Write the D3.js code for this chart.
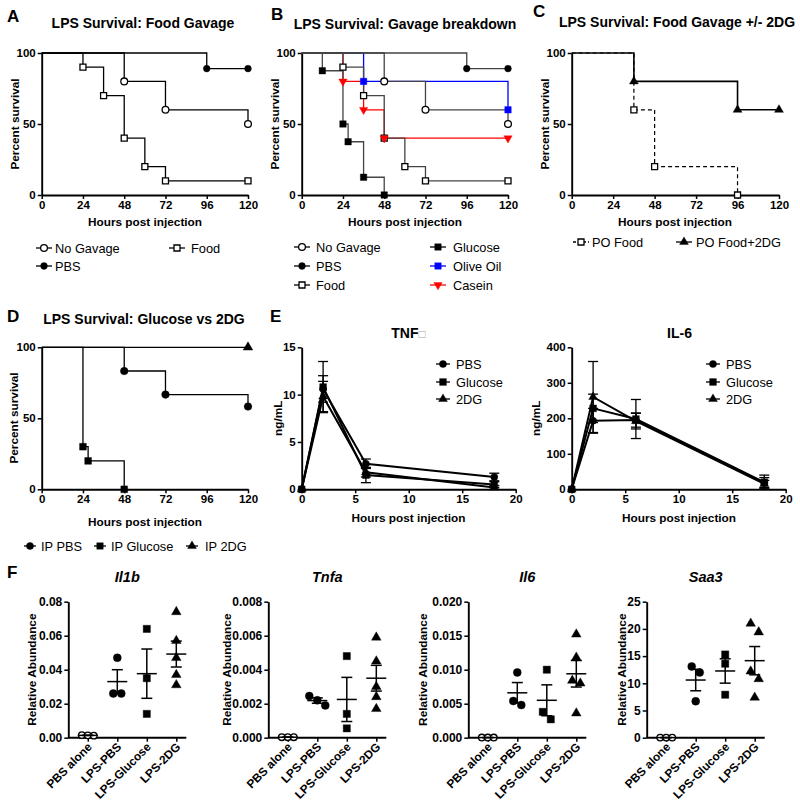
<!DOCTYPE html>
<html><head><meta charset="utf-8">
<script src="https://cdn.jsdelivr.net/npm/d3@7"></script>
<style>body{margin:0;background:#fff}</style>
</head><body>
<svg id="chart" width="800" height="807" style="background:#fff"></svg>
<script>
// ---------------- DATA ----------------
const survivalHourTicks = [0, 24, 48, 72, 96, 120];
const survivalPctTicks = [0, 50, 100];
// [hours, percent survival] at each event (curves start at 100%)
const noGavage = [[48, 80], [72, 60], [120, 50]];
const pbsGavage = [[96, 89], [120, 89]];
const foodGavage = [[24, 90], [36, 70], [48, 40], [60, 20], [72, 10], [120, 10]];
const glucoseGavage = [[12, 87.5], [24, 50], [27, 37.5], [36, 12.5], [48, 0]];
const oliveOilGavage = [[36, 80], [120, 60]];
const caseinGavage = [[24, 80], [36, 60], [48, 40], [120, 40]];
const poFood = [[36, 60], [48, 20], [96, 0]];
const poFood2DG = [[36, 80], [96, 60], [120, 60]];
const ipPBS = [[48, 83.3], [72, 66.7], [120, 58.3]];
const ipGlucose = [[24, 30], [27, 20], [48, 0]];
const ip2DG = [[120, 100]];

const cytoHours = [0, 2, 6, 18];
const cytoHourTicks = [0, 5, 10, 15, 20];
const tnfTicks = [0, 5, 10, 15];
const il6Ticks = [0, 100, 200, 300, 400];
const tnfPBS = [0, 10.6, 2.7, 1.3];
const tnfPBSsem = [0, 1.4, 0.5, 0.4];
const tnfGlucose = [0, 10.8, 1.5, 0.5];
const tnfGlucoseSem = [0, 2.7, 0.8, 0.3];
const tnf2DG = [0, 9.8, 1.8, 0.2];
const tnf2DGsem = [0, 1.6, 0.5, 0.2];
const il6PBS = [0, 193, 195, 18];
const il6PBSsem = [0, 35, 20, 15];
const il6Glucose = [0, 228, 198, 20];
const il6GlucoseSem = [0, 40, 55, 20];
const il62DG = [0, 260, 192, 15];
const il62DGsem = [0, 100, 22, 10];

const fCategories = ["PBS alone", "LPS-PBS", "LPS-Glucose", "LPS-2DG"];
const il1bValues = [[0.0015, 0.0012, 0.0014], [0.047, 0.026, 0.026], [0.064, 0.035, 0.014], [0.074, 0.057, 0.047, 0.037, 0.031]];
const tnfaValues = [[0.00003, 0.00003, 0.00003], [0.00245, 0.0019, 0.0022], [0.0048, 0.0014, 0.00055], [0.0059, 0.0045, 0.0030, 0.0024, 0.0017]];
const il6Values = [[0.00002, 0.00002, 0.00002], [0.0096, 0.0054, 0.0048], [0.0100, 0.0038, 0.0027], [0.0152, 0.0118, 0.0084, 0.0080, 0.0036]];
const saa3Values = [[0.02, 0.02, 0.02], [13.1, 12.0, 6.7], [15.3, 13.6, 7.9], [21.0, 19.4, 12.2, 10.8, 7.4]];
const il1bTicks = [0, 0.02, 0.04, 0.06, 0.08];
const tnfaTicks = [0, 0.002, 0.004, 0.006, 0.008];
const il6mTicks = [0, 0.005, 0.010, 0.015, 0.020];
const saa3Ticks = [0, 5, 10, 15, 20, 25];

// ---------------- HELPERS ----------------
const FONT = "Arial, 'Liberation Sans', Helvetica, sans-serif";
const svg = d3.select("#chart");

function addText(x, y, str, o = {}) {
  const t = svg.append("text").attr("x", x).attr("y", y).text(str)
    .attr("font-family", FONT).attr("font-size", o.size || 12)
    .attr("font-weight", o.bold ? "bold" : "normal")
    .attr("font-style", o.italic ? "italic" : "normal")
    .attr("text-anchor", o.anchor || "start").attr("fill", "#000");
  if (o.rotate) t.attr("transform", `rotate(${o.rotate},${x},${y})`);
  if (o.dy) t.attr("dy", o.dy);
  return t;
}

const symTypes = {circle: d3.symbolCircle, square: d3.symbolSquare, triangle: d3.symbolTriangle, triangleDown: d3.symbolTriangle};
function drawMarker(g, shape, x, y, color, size) {
  const open = shape.endsWith("Open");
  const base = shape.replace("Open", "");
  g.append("path").attr("d", d3.symbol().type(symTypes[base]).size(size)())
    .attr("transform", `translate(${x},${y})` + (base === "triangleDown" ? " rotate(180)" : ""))
    .attr("fill", open ? "#fff" : color).attr("stroke", color).attr("stroke-width", open ? 1.3 : 0.4);
}

function styleAxis(g, fs) {
  g.selectAll("path.domain").attr("stroke", "#000").attr("stroke-width", 1.9);
  g.selectAll(".tick line").attr("stroke", "#000").attr("stroke-width", 1.5);
  g.selectAll(".tick text").attr("font-family", FONT).attr("font-size", fs || 11.5)
    .attr("font-weight", "bold").attr("fill", "#000");
}

function legend(entries) {
  const g = svg.append("g");
  entries.forEach(e => {
    const half = e.half || 8;
    g.append("line").attr("x1", e.sx - half).attr("x2", e.sx + half).attr("y1", e.y).attr("y2", e.y)
      .attr("stroke", e.color).attr("stroke-width", 1.3).attr("stroke-dasharray", e.dash || null);
    drawMarker(g, e.shape, e.sx, e.y, e.color, e.size || 36);
    g.append("text").attr("x", e.tx).attr("y", e.y).attr("dy", "0.36em").text(e.label)
      .attr("font-family", FONT).attr("font-size", 12.8).attr("fill", "#000");
  });
}

function survivalPanel(p) {
  const x = d3.scaleLinear().domain([0, 120]).range([p.x0, p.x1]);
  const y = d3.scaleLinear().domain([0, 100]).range([p.yb, p.yt]);
  const g = svg.append("g");
  const gx = g.append("g").attr("transform", `translate(0,${p.yb})`)
    .call(d3.axisBottom(x).tickValues(survivalHourTicks).tickSize(4).tickSizeOuter(0).tickPadding(2));
  const gy = g.append("g").attr("transform", `translate(${p.x0},0)`)
    .call(d3.axisLeft(y).tickValues(survivalPctTicks).tickSize(4).tickSizeOuter(0).tickPadding(2));
  styleAxis(gx); styleAxis(gy);
  const line = d3.line().x(d => x(d[0])).y(d => y(d[1])).curve(d3.curveStepAfter);
  const lineOrder = p.series.filter(s => s.under).concat(p.series.filter(s => !s.under));
  lineOrder.forEach(s => {
    g.append("path").datum([[0, 100], ...s.data]).attr("d", line).attr("fill", "none")
      .attr("stroke", s.lineColor || s.color).attr("stroke-width", s.width || 1.3)
      .attr("stroke-dasharray", s.dash || null);
  });
  p.series.forEach(s => s.data.forEach(d => drawMarker(g, s.shape, x(d[0]), y(d[1]), s.color, s.size || 36)));
}

function cytoPanel(p) {
  const x = d3.scaleLinear().domain([0, 20]).range([p.x0, p.x1]);
  const y = d3.scaleLinear().domain([0, p.ymax]).range([p.yb, p.yt]);
  const g = svg.append("g");
  const gx = g.append("g").attr("transform", `translate(0,${p.yb})`)
    .call(d3.axisBottom(x).tickValues(cytoHourTicks).tickSize(4).tickSizeOuter(0).tickPadding(2));
  const gy = g.append("g").attr("transform", `translate(${p.x0},0)`)
    .call(d3.axisLeft(y).tickValues(p.ticks).tickSize(4).tickSizeOuter(0).tickPadding(2));
  styleAxis(gx); styleAxis(gy);
  const line = d3.line().x((d, i) => x(cytoHours[i])).y(d => y(d));
  p.series.forEach(s => {
    s.values.forEach((v, i) => {
      const e = s.sem[i];
      if (e <= 0) return;
      const cx = x(cytoHours[i]);
      g.append("line").attr("x1", cx).attr("x2", cx).attr("y1", y(Math.max(0, v - e))).attr("y2", y(v + e))
        .attr("stroke", "#000").attr("stroke-width", 1.3);
      [v + e, Math.max(0, v - e)].forEach(b => g.append("line").attr("x1", cx - 5).attr("x2", cx + 5)
        .attr("y1", y(b)).attr("y2", y(b)).attr("stroke", "#000").attr("stroke-width", 1.3));
    });
  });
  p.series.forEach(s => {
    g.append("path").datum(s.values).attr("d", line).attr("fill", "none").attr("stroke", "#000").attr("stroke-width", 2);
  });
  p.series.forEach(s => s.values.forEach((v, i) => drawMarker(g, s.shape, x(cytoHours[i]), y(v), "#000", s.size)));
}

const fShapes = ["circleOpen", "circle", "square", "triangle"];
const fSizes = [34, 50, 52, 40];
function dotPanel(p) {
  const x1 = p.x0 + 118;
  const xp = d3.scalePoint().domain(fCategories).range([p.x0 + 19.5, p.x0 + 108]);
  const y = d3.scaleLinear().domain([0, p.ymax]).range([p.yb, p.yt]);
  const g = svg.append("g");
  const gx = g.append("g").attr("transform", `translate(0,${p.yb})`)
    .call(d3.axisBottom(xp).tickSize(4).tickSizeOuter(0).tickPadding(2));
  gx.select("path.domain").attr("d", `M${p.x0},0H${x1}`);
  const gy = g.append("g").attr("transform", `translate(${p.x0},0)`)
    .call(d3.axisLeft(y).tickValues(p.ticks).tickFormat(d3.format(p.fmt)).tickSize(4).tickSizeOuter(0).tickPadding(2));
  styleAxis(gx, 11.8); styleAxis(gy, 12);
  gx.selectAll(".tick text").attr("text-anchor", "end").attr("x", -4).attr("y", 6).attr("dy", "0.35em")
    .attr("transform", "rotate(-45)");
  p.data.forEach((vals, i) => {
    const cx = xp(fCategories[i]);
    const pts = vals.map(v => ({v, py: y(v)})).sort((a, b) => a.py - b.py);
    // group near-equal values and spread them horizontally
    const clusters = [];
    pts.forEach(pt => {
      const last = clusters[clusters.length - 1];
      if (last && pt.py - last[last.length - 1].py < 9) last.push(pt); else clusters.push([pt]);
    });
    clusters.forEach(c => c.forEach((pt, j) => { pt.px = cx + (j - (c.length - 1) / 2) * (i === 0 ? 6 : 8); }));
    const m = d3.mean(vals);
    const sem = d3.deviation(vals) / Math.sqrt(vals.length);
    pts.forEach(pt => drawMarker(g, fShapes[i], pt.px, pt.py, "#000", fSizes[i]));
    g.append("line").attr("x1", cx - 10).attr("x2", cx + 10).attr("y1", y(m)).attr("y2", y(m))
      .attr("stroke", "#000").attr("stroke-width", 1.5);
    g.append("line").attr("x1", cx).attr("x2", cx).attr("y1", y(m - sem)).attr("y2", y(m + sem))
      .attr("stroke", "#000").attr("stroke-width", 1.5);
    [m - sem, m + sem].forEach(b => g.append("line").attr("x1", cx - 5.5).attr("x2", cx + 5.5)
      .attr("y1", y(b)).attr("y2", y(b)).attr("stroke", "#000").attr("stroke-width", 1.5));
  });
}

const TITLE = 14, AXT = 11.8;

// ---------------- PANEL A ----------------
addText(7, 22, "A", {size: 17, bold: true});
addText(143, 28, "LPS Survival: Food Gavage", {size: TITLE, bold: true, anchor: "middle"});
survivalPanel({x0: 41.7, x1: 248, yt: 53, yb: 195, series: [
  {data: pbsGavage, shape: "circle", color: "#000"},
  {data: noGavage, shape: "circleOpen", color: "#000"},
  {data: foodGavage, shape: "squareOpen", color: "#000"}
]});
addText(145, 225.5, "Hours post injection", {size: AXT, bold: true, anchor: "middle"});
addText(19, 124, "Percent survival", {size: AXT, bold: true, anchor: "middle", rotate: -90});
legend([
  {sx: 44, tx: 55, y: 248, shape: "circleOpen", color: "#000", label: "No Gavage"},
  {sx: 177, tx: 191, y: 248, shape: "squareOpen", color: "#000", label: "Food"},
  {sx: 44, tx: 55, y: 266, shape: "circle", color: "#000", label: "PBS"}
]);

// ---------------- PANEL B ----------------
addText(271, 20, "B", {size: 17, bold: true});
addText(405, 29, "LPS Survival: Gavage breakdown", {size: TITLE, bold: true, anchor: "middle"});
survivalPanel({x0: 301.7, x1: 508, yt: 53, yb: 195, series: [
  {data: pbsGavage, shape: "circle", color: "#000", lineColor: "#444"},
  {data: noGavage, shape: "circleOpen", color: "#000", lineColor: "#444"},
  {data: glucoseGavage, shape: "square", color: "#000", lineColor: "#444", size: 42},
  {data: foodGavage, shape: "squareOpen", color: "#000", lineColor: "#444"},
  {data: oliveOilGavage, shape: "square", color: "#0000ff", size: 42, under: true},
  {data: caseinGavage, shape: "triangleDown", color: "#ff0000", size: 30, under: true}
]});
addText(405, 225.5, "Hours post injection", {size: AXT, bold: true, anchor: "middle"});
addText(279, 124, "Percent survival", {size: AXT, bold: true, anchor: "middle", rotate: -90});
legend([
  {sx: 302, tx: 316, y: 247, shape: "circleOpen", color: "#000", label: "No Gavage"},
  {sx: 302, tx: 316, y: 266, shape: "circle", color: "#000", label: "PBS"},
  {sx: 302, tx: 316, y: 285, shape: "squareOpen", color: "#000", label: "Food"},
  {sx: 438, tx: 453, y: 247, shape: "square", color: "#000", label: "Glucose", size: 42},
  {sx: 438, tx: 453, y: 266, shape: "square", color: "#0000ff", label: "Olive Oil", size: 42},
  {sx: 438, tx: 453, y: 285, shape: "triangleDown", color: "#ff0000", label: "Casein", size: 30}
]);

// ---------------- PANEL C ----------------
addText(533, 17, "C", {size: 17, bold: true});
addText(677, 27, "LPS Survival: Food Gavage +/- 2DG", {size: TITLE, bold: true, anchor: "middle"});
survivalPanel({x0: 571.7, x1: 779, yt: 53, yb: 195, series: [
  {data: poFood, shape: "squareOpen", color: "#000", dash: "4,3", width: 1.2},
  {data: poFood2DG, shape: "triangle", color: "#000", size: 34, width: 1.6}
]});
addText(675, 225.5, "Hours post injection", {size: AXT, bold: true, anchor: "middle"});
addText(549, 124, "Percent survival", {size: AXT, bold: true, anchor: "middle", rotate: -90});
legend([
  {sx: 581, tx: 592, y: 242, shape: "squareOpen", color: "#000", label: "PO Food", dash: "3,2"},
  {sx: 684, tx: 696, y: 242, shape: "triangle", color: "#000", label: "PO Food+2DG", size: 34}
]);

// ---------------- PANEL D ----------------
addText(7, 321.7, "D", {size: 17, bold: true});
addText(144, 324, "LPS Survival: Glucose vs 2DG", {size: TITLE, bold: true, anchor: "middle"});
survivalPanel({x0: 41.7, x1: 248, yt: 347.3, yb: 489.3, series: [
  {data: ip2DG, shape: "triangle", color: "#000", size: 40},
  {data: ipPBS, shape: "circle", color: "#000", size: 46},
  {data: ipGlucose, shape: "square", color: "#000", size: 46}
]});
addText(145, 526, "Hours post injection", {size: AXT, bold: true, anchor: "middle"});
addText(17.5, 418, "Percent survival", {size: AXT, bold: true, anchor: "middle", rotate: -90});
legend([
  {sx: 30, tx: 41, y: 546, shape: "circle", color: "#000", label: "IP PBS", half: 6, size: 40},
  {sx: 100, tx: 111, y: 546, shape: "square", color: "#000", label: "IP Glucose", half: 6, size: 42},
  {sx: 192, tx: 205, y: 546, shape: "triangle", color: "#000", label: "IP 2DG", half: 6, size: 34}
]);

// ---------------- PANEL E ----------------
addText(270, 321.7, "E", {size: 17, bold: true});
const tnfTitle = addText(408.5, 338.3, "TNF", {size: TITLE, bold: true, anchor: "middle"});
tnfTitle.append("tspan").text("\u25A1").attr("font-weight", "normal").attr("fill", "#aaa").attr("font-size", 12);
addText(679.5, 338.3, "IL-6", {size: TITLE, bold: true, anchor: "middle"});
cytoPanel({x0: 301.7, x1: 515.7, yt: 347.3, yb: 489.3, ymax: 15, ticks: tnfTicks, series: [
  {values: tnfPBS, sem: tnfPBSsem, shape: "circle", size: 40},
  {values: tnfGlucose, sem: tnfGlucoseSem, shape: "square", size: 46},
  {values: tnf2DG, sem: tnf2DGsem, shape: "triangle", size: 34}
]});
cytoPanel({x0: 571.7, x1: 785.7, yt: 347.3, yb: 489.3, ymax: 400, ticks: il6Ticks, series: [
  {values: il6PBS, sem: il6PBSsem, shape: "circle", size: 40},
  {values: il6Glucose, sem: il6GlucoseSem, shape: "square", size: 46},
  {values: il62DG, sem: il62DGsem, shape: "triangle", size: 34}
]});
addText(408.5, 522, "Hours post injection", {size: AXT, bold: true, anchor: "middle"});
addText(679, 522, "Hours post injection", {size: AXT, bold: true, anchor: "middle"});
addText(282, 418.3, "ng/mL", {size: AXT, bold: true, anchor: "middle", rotate: -90});
addText(540.5, 418.3, "ng/mL", {size: AXT, bold: true, anchor: "middle", rotate: -90});
["PBS", "Glucose", "2DG"].forEach((lab, i) => {
  const shape = ["circle", "square", "triangle"][i];
  const size = [40, 46, 34][i];
  const yy = [364, 382, 399][i];
  legend([
    {sx: 443, tx: 456, y: yy, shape, color: "#000", label: lab, size, half: 7},
    {sx: 713, tx: 726, y: yy, shape, color: "#000", label: lab, size, half: 7}
  ]);
});

// ---------------- PANEL F ----------------
addText(7, 578.3, "F", {size: 17, bold: true});
const fPanels = [
  {x0: 68.3, data: il1bValues, ymax: 0.08, ticks: il1bTicks, fmt: ".2f", title: "Il1b", ylx: 36.3},
  {x0: 268.3, data: tnfaValues, ymax: 0.008, ticks: tnfaTicks, fmt: ".3f", title: "Tnfa", ylx: 230.7},
  {x0: 468.3, data: il6Values, ymax: 0.020, ticks: il6mTicks, fmt: ".3f", title: "Il6", ylx: 427.3},
  {x0: 646.7, data: saa3Values, ymax: 25, ticks: saa3Ticks, fmt: "d", title: "Saa3", ylx: 625.7}
];
fPanels.forEach(fp => {
  dotPanel({x0: fp.x0, yt: 601.7, yb: 737.7, ymax: fp.ymax, ticks: fp.ticks, fmt: fp.fmt, data: fp.data});
  addText(fp.x0 + 59, 581.7, fp.title, {size: 14.5, bold: true, italic: true, anchor: "middle"});
  addText(fp.ylx, 669.7, "Relative Abundance", {size: AXT, bold: true, anchor: "middle", rotate: -90});
});
</script>
</body></html>
